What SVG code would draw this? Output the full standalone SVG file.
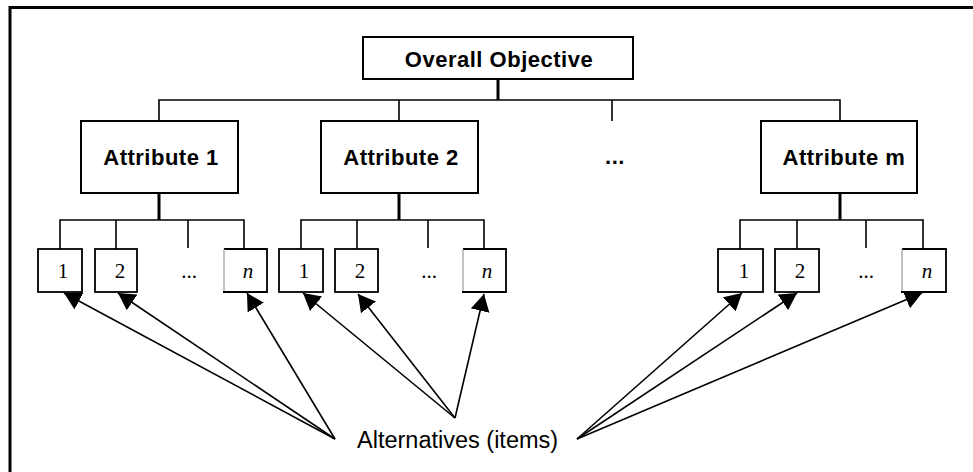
<svg xmlns="http://www.w3.org/2000/svg" width="973" height="472" viewBox="0 0 973 472">
  <style>
    .frame { stroke: #000; stroke-width: 3; fill: none; }
    .box { fill: #fff; stroke: #000; stroke-width: 2; }
    .item { fill: #fff; stroke: #000; stroke-width: 1.8; }
    .link { stroke: #000; stroke-width: 1.6; fill: none; }
    .trunk { stroke: #000; stroke-width: 3; fill: none; }
    .arrow { stroke: #000; stroke-width: 1.6; fill: none; marker-end: url(#head); }
    .bold { font-family: "Liberation Sans", Arial, sans-serif; font-weight: bold; font-size: 22px; text-anchor: middle; fill: #000; letter-spacing: 0.5px; }
    .num { font-family: "Liberation Serif", "Times New Roman", serif; font-size: 21px; text-anchor: middle; fill: #000; }
    .it { font-style: italic; }
    .label { font-family: "Liberation Sans", Arial, sans-serif; font-size: 23.5px; fill: #000; }
  </style>
  <defs>
    <marker id="head" markerUnits="userSpaceOnUse" markerWidth="18" markerHeight="20" refX="17" refY="9.5" orient="auto">
      <path d="M0,0 L17,9.5 L0,19 z" fill="#000"/>
    </marker>
  </defs>

  <rect width="973" height="472" fill="#fff"/>

  <!-- frame (top and left edges) -->
  <path class="frame" d="M10,472 L10,7.5 L973,7.5"/>

  <g id="connectors">
    <!-- objective to attributes -->
    <line class="trunk" x1="498" y1="79" x2="498" y2="100"/>
    <path class="link" d="M159,121 L159,100 L840,100 L840,121 M399,100 L399,121 M612,100 L612,121"/>
    <!-- attribute 1 to items -->
    <line class="trunk" x1="159" y1="193" x2="159" y2="220"/>
    <path class="link" d="M60,249 L60,220 L244,220 L244,249 M116,220 L116,249 M188,220 L188,248"/>
    <!-- attribute 2 to items -->
    <line class="trunk" x1="399" y1="193" x2="399" y2="220"/>
    <path class="link" d="M301,249 L301,220 L484,220 L484,249 M357,220 L357,249 M428,220 L428,248"/>
    <!-- attribute m to items -->
    <line class="trunk" x1="840" y1="193" x2="840" y2="220"/>
    <path class="link" d="M740,249 L740,220 L923,220 L923,249 M797,220 L797,249 M866,220 L866,248"/>
    <!-- label arrows -->
    <line class="arrow" x1="335" y1="439" x2="64" y2="293"/>
    <line class="arrow" x1="335" y1="439" x2="118" y2="293"/>
    <line class="arrow" x1="335" y1="439" x2="247" y2="293"/>
    <line class="arrow" x1="455" y1="418" x2="303" y2="293"/>
    <line class="arrow" x1="455" y1="418" x2="358" y2="294"/>
    <line class="arrow" x1="455" y1="418" x2="484" y2="294"/>
    <line class="arrow" x1="577" y1="439" x2="742" y2="293"/>
    <line class="arrow" x1="577" y1="439" x2="797" y2="293"/>
    <line class="arrow" x1="577" y1="439" x2="922" y2="293"/>
  </g>

  <g id="objective">
    <rect class="box" x="363" y="37" width="270" height="42"/>
    <text class="bold" x="499" y="67">Overall Objective</text>
  </g>

  <g id="attribute-1">
    <rect class="box" x="81" y="121" width="157" height="72"/>
    <text class="bold" x="161" y="165">Attribute 1</text>
  </g>
  <g id="attribute-2">
    <rect class="box" x="321" y="121" width="157" height="72"/>
    <text class="bold" x="401" y="165">Attribute 2</text>
  </g>
  <g id="attribute-more">
    <text class="bold" x="615" y="164">...</text>
  </g>
  <g id="attribute-m">
    <rect class="box" x="761" y="121" width="156" height="72"/>
    <text class="bold" x="844" y="165">Attribute m</text>
  </g>

  <!-- items under attribute 1 -->
  <g id="a1-item-1">
    <rect class="item" x="38" y="249" width="44" height="43"/>
    <text class="num" x="63" y="278">1</text>
  </g>
  <g id="a1-item-2">
    <rect class="item" x="95" y="249" width="42" height="43"/>
    <text class="num" x="120" y="278">2</text>
  </g>
  <g id="a1-item-more">
    <text class="num" x="189" y="278">...</text>
  </g>
  <g id="a1-item-n">
    <rect x="224" y="249" width="43" height="43" fill="#fff"/>
    <path d="M224,249 L267,249 L267,292 L223,292" class="item" fill="none"/>
    <line x1="224" y1="249" x2="224" y2="291" stroke="#999" stroke-width="1.2"/>
    <text class="num it" x="248" y="278">n</text>
  </g>

  <!-- items under attribute 2 -->
  <g id="a2-item-1">
    <rect class="item" x="279" y="249" width="44" height="43"/>
    <text class="num" x="304" y="278">1</text>
  </g>
  <g id="a2-item-2">
    <rect class="item" x="335" y="249" width="43" height="43"/>
    <text class="num" x="360" y="278">2</text>
  </g>
  <g id="a2-item-more">
    <text class="num" x="429" y="278">...</text>
  </g>
  <g id="a2-item-n">
    <rect x="463" y="249" width="43" height="43" fill="#fff"/>
    <path d="M463,249 L506,249 L506,292 L462,292" class="item" fill="none"/>
    <line x1="463" y1="249" x2="463" y2="291" stroke="#999" stroke-width="1.2"/>
    <text class="num it" x="487" y="278">n</text>
  </g>

  <!-- items under attribute m -->
  <g id="am-item-1">
    <rect class="item" x="718" y="249" width="45" height="43"/>
    <text class="num" x="744" y="278">1</text>
  </g>
  <g id="am-item-2">
    <rect class="item" x="775" y="249" width="44" height="43"/>
    <text class="num" x="800" y="278">2</text>
  </g>
  <g id="am-item-more">
    <text class="num" x="866" y="278">...</text>
  </g>
  <g id="am-item-n">
    <rect x="902" y="249" width="44" height="43" fill="#fff"/>
    <path d="M902,249 L946,249 L946,292 L901,292" class="item" fill="none"/>
    <line x1="902" y1="249" x2="902" y2="291" stroke="#999" stroke-width="1.2"/>
    <text class="num it" x="927" y="278">n</text>
  </g>

  <g id="alternatives-label">
    <text class="label" x="357" y="448">Alternatives (items)</text>
  </g>
</svg>
